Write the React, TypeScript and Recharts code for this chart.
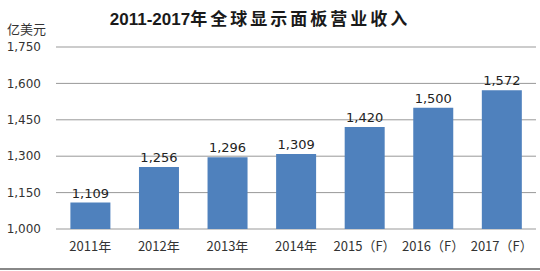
import { BarChart, Bar, XAxis, YAxis, CartesianGrid, LabelList } from "recharts";

const years = ["2011年", "2012年", "2013年", "2014年", "2015（F）", "2016（F）", "2017（F）"];
const revenue = [1109, 1256, 1296, 1309, 1420, 1500, 1572];
const yTicks = [1000, 1150, 1300, 1450, 1600, 1750];

const data = years.map((year, i) => ({ year, revenue: revenue[i] }));

const fmt = (v: number) => v.toLocaleString("en-US");

export default function App() {
  return (
    <div
      style={{
        position: "absolute",
        left: 0,
        top: 0,
        width: 540,
        height: 271,
        background: "#fff",
        fontFamily: "'Noto Sans CJK SC', 'DejaVu Sans', sans-serif",
      }}
    >
      <div
        style={{
          position: "absolute",
          top: 7,
          left: 0,
          width: 520,
          textAlign: "center",
          fontSize: 17,
          fontWeight: "bold",
          color: "#1a1a1a",
          lineHeight: "22px",
        }}
      >
        <span style={{ fontFamily: "'Liberation Sans', sans-serif" }}>2011-2017</span>
        <span style={{ letterSpacing: 3 }}>年全球显示面板营业收入</span>
      </div>
      <div
        style={{
          position: "absolute",
          top: 21,
          left: 7,
          fontSize: 13,
          color: "#333",
          lineHeight: "16px",
        }}
      >
        亿美元
      </div>
      <BarChart
        width={540}
        height={271}
        data={data}
        margin={{ top: 47, right: 4, bottom: 12, left: 0 }}
        barCategoryGap="21%"
      >
        <CartesianGrid vertical={false} stroke="#999" />
        <XAxis
          dataKey="year"
          axisLine={false}
          tickLine={false}
          height={30}
          tickMargin={7}
          interval={0}
          tick={{ fontSize: 13, fill: "#333", fontFamily: "'Noto Sans CJK SC', sans-serif" }}
        />
        <YAxis
          domain={[1000, 1750]}
          ticks={yTicks}
          width={56}
          axisLine={false}
          tickLine={false}
          tickMargin={9}
          tickFormatter={fmt}
          tick={{ fontSize: 12, fill: "#333", fontFamily: "'DejaVu Sans', sans-serif" }}
        />
        <Bar dataKey="revenue" fill="#4F81BD" isAnimationActive={false}>
          <LabelList
            dataKey="revenue"
            position="top"
            formatter={(v: any) => fmt(Number(v))}
            style={{ fontSize: 13, fill: "#222", fontFamily: "'DejaVu Sans', sans-serif" }}
          />
        </Bar>
      </BarChart>
      <div
        style={{
          position: "absolute",
          left: 0,
          top: 268,
          width: 540,
          height: 2,
          background: "#888",
        }}
      />
    </div>
  );
}
